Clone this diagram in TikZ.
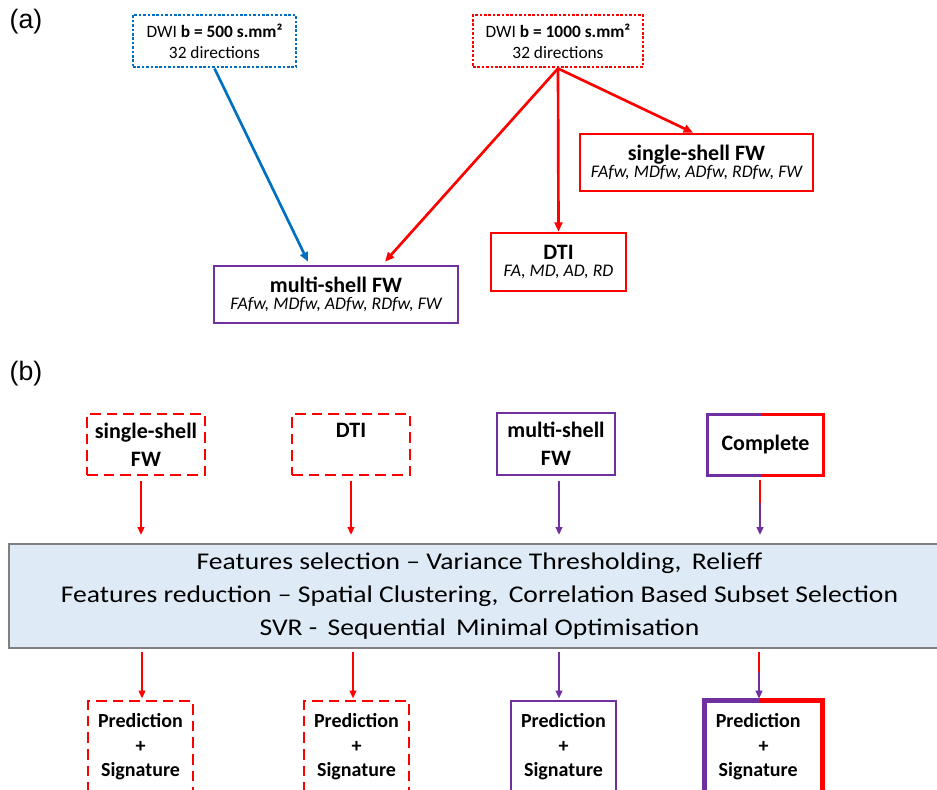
\documentclass[tikz,border=0pt]{standalone}
\usepackage{fontspec}
\setmainfont{Carlito}
\newfontfamily\arialf{Liberation Sans}
\usetikzlibrary{arrows.meta,calc,backgrounds}
\definecolor{cred}{HTML}{FF0000}
\definecolor{cpur}{HTML}{7030A0}
\definecolor{cblue}{HTML}{0070C0}
\definecolor{cfill}{HTML}{DEEBF7}
\definecolor{cgray}{HTML}{808080}
\begin{document}
\begin{tikzpicture}[x=0.75pt,y=-0.75pt,
  box/.style={rectangle,inner sep=0pt,align=center,line join=miter},
  dotbox/.style={box,line width=2.2pt,dash pattern=on 2pt off 1.3pt},
  abox/.style={box,line width=2pt},
  dashbox/.style={box,line width=2.2pt,dash pattern=on 8pt off 4.5pt},
  solbox/.style={box,line width=2.2pt},
  fsmall/.style={font=\fontsize{13}{15.75}\selectfont},
  fhead/.style={font=\bfseries\fontsize{16.5}{21}\selectfont},
  fbig/.style={font=\fontsize{18}{24.75}\selectfont\addfontfeatures{FakeStretch=1.15}},
  fpred/.style={font=\bfseries\fontsize{15}{18.4}\selectfont},
  arrA/.style={line width=2pt,-{Triangle[length=7pt,width=6pt]}},
  arrB/.style={line width=1.6pt,-{Triangle[length=6pt,width=5pt]}},
  lab/.style={font=\arialf\fontsize{20}{22}\selectfont,inner sep=0pt}
]
\useasboundingbox (0,0) rectangle (937,789);

% ---------- (a) ----------
\node[lab] (la) at (26,22) {(a)};
\node[dotbox,draw=cblue,fsmall,minimum width=122.25pt,minimum height=39pt] (w500) at (214.5,41)
  {DWI \textbf{b = 500 s.mm²}\\32 directions};
\node[dotbox,draw=cred,fsmall,minimum width=127.5pt,minimum height=39pt] (w1000) at (558,41)
  {DWI \textbf{b = 1000 s.mm²}\\32 directions};
\node[abox,draw=cred,minimum width=174.75pt,minimum height=42.75pt] (ssfw) at (696.5,162.5)
  {{\bfseries\fontsize{16.5}{19}\selectfont single-shell FW}\\[1pt]{\itshape\fontsize{13.3}{15}\selectfont FAfw, MDfw, ADfw, RDfw, FW}};
\node[abox,draw=cred,minimum width=101.25pt,minimum height=43.5pt] (dti) at (558.5,262)
  {{\bfseries\fontsize{16.5}{19}\selectfont DTI}\\[1pt]{\itshape\fontsize{13.3}{15}\selectfont FA, MD, AD, RD}};
\node[abox,draw=cpur,minimum width=183pt,minimum height=42.75pt] (msfw) at (336,294.5)
  {{\bfseries\fontsize{16.5}{19}\selectfont multi-shell FW}\\[1pt]{\itshape\fontsize{13.3}{15}\selectfont FAfw, MDfw, ADfw, RDfw, FW}};

\draw[arrA,cblue] (w500.south) -- ($(msfw.north)+(-28,-3)$);
\draw[arrA,cred] (w1000.south) -- ($(msfw.north)+(49,-3)$);
\draw[arrA,cred] (w1000.south) -- (dti.north);
\draw[arrA,cred] (w1000.south) -- ($(ssfw.north)+(-3.5,0)$);

% ---------- (b) ----------
\node[lab] (lb) at (26,374) {(b)};
\node[dashbox,draw=cred,fhead,minimum width=88.5pt,minimum height=45.75pt] (bss) at (146,444.5)
  {single-shell\\FW};
\node[dashbox,draw=cred,fhead,minimum width=88.5pt,minimum height=45.75pt] (bdti) at (351,444.5)
  {DTI\\\phantom{FW}};
\node[solbox,draw=cpur,fhead,minimum width=88.5pt,minimum height=46.5pt] (bms) at (556,444)
  {multi-shell\\FW};
\node[box,fhead,minimum width=86.25pt,minimum height=45pt] (bco) at (765.5,445)
  {Complete};
\draw[cpur,line width=2.6pt,line join=miter] ($(bco.north)+(-3.5,0)$) -| (bco.south west) -- ($(bco.south)+(-3.5,0)$);
\draw[cred,line width=2.6pt,line join=miter] ($(bco.north)+(-3.5,0)$) -| (bco.south east) -- ($(bco.south)+(-3.5,0)$);

\node[box,fbig,minimum width=600pt,minimum height=78pt] (feat) at (479.5,596)
  {Features selection -- Variance Thresholding,\, Relieff\\
   Features reduction -- Spatial Clustering,\, Correlation Based Subset Selection\\
   SVR -\, Sequential\, Minimal Optimisation};
\coordinate (fnw) at (9,544);
\coordinate (fsw) at (9,648);
\coordinate (fne) at (1100,544);
\coordinate (fse) at (1100,648);
\begin{scope}[on background layer]
  \fill[cfill] (fnw) rectangle (fse);
  \draw[cgray,line width=1.2pt] (fne) -- (fnw) -- (fsw) -- (fse);
\end{scope}

\node[dashbox,draw=cred,fpred,minimum width=78.75pt,minimum height=69pt] (pss) at (140.5,747)
  {Prediction\\+\\Signature};
\node[dashbox,draw=cred,fpred,minimum width=78.75pt,minimum height=69pt] (pdti) at (356.5,747)
  {Prediction\\+\\Signature};
\node[solbox,draw=cpur,fpred,minimum width=78.75pt,minimum height=69pt] (pms) at (563.5,747)
  {Prediction\\+\\Signature};
\node[box,fpred,minimum width=87.75pt,minimum height=69pt] (pco) at (763.5,747)
  {Prediction\hspace*{8pt}\\+\hspace*{8pt}\\Signature\hspace*{8pt}};
\draw[cpur,line width=3.6pt,line join=miter] ($(pco.north)+(-3.5,0)$) -| (pco.south west) -- ($(pco.south)+(-3.5,0)$);
\draw[cred,line width=3.6pt,line join=miter] ($(pco.north)+(-3.5,0)$) -| (pco.south east) -- ($(pco.south)+(-3.5,0)$);

% top arrows
\draw[arrB,cred] ($(bss.south)+(-5,5)$) -- ($(bss.south |- fnw)+(-5,-9)$);
\draw[arrB,cred] ($(bdti.south)+(0,5)$) -- ($(bdti.south |- fnw)+(0,-9)$);
\draw[arrB,cpur] ($(bms.south)+(3,5)$) -- ($(bms.south |- fnw)+(3,-9)$);
\coordinate (ctop) at ($(bco.south)+(-5.5,28)$);
\draw[cred,line width=1.6pt] ($(bco.south)+(-5.5,5)$) -- (ctop);
\draw[arrB,cpur] (ctop) -- ($(bco.south |- fnw)+(-5.5,-9)$);

% bottom arrows
\draw[arrB,cred] ($(fsw -| pss.north)+(1.5,4)$) -- ($(pss.north)+(1.5,-1)$);
\draw[arrB,cred] ($(fsw -| pdti.north)+(-3.5,4)$) -- ($(pdti.north)+(-3.5,-1)$);
\draw[arrB,cpur] ($(fsw -| pms.north)+(-4.5,4)$) -- ($(pms.north)+(-4.5,-1)$);
\coordinate (cbot) at ($(fsw -| pco.north)+(-4.5,24)$);
\draw[cred,line width=1.6pt] ($(fsw -| pco.north)+(-4.5,4)$) -- (cbot);
\draw[arrB,cpur] (cbot) -- ($(pco.north)+(-4.5,-2)$);
\end{tikzpicture}
\end{document}
